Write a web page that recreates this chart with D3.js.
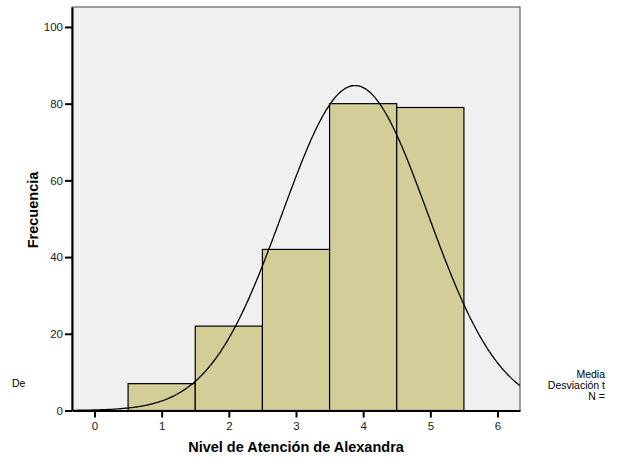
<!DOCTYPE html>
<html>
<head>
<meta charset="utf-8">
<script src="https://cdn.jsdelivr.net/npm/d3@7"></script>
<style>
  body { margin: 0; background: #fff; }
  svg text { font-family: "Liberation Sans", Arial, sans-serif; }
</style>
</head>
<body>
<div id="viz"></div>
<script>
"use strict";
(function(){
    // bins of the histogram and their counts
    const categories = [1, 2, 3, 4, 5]
    const frequencies = [7, 22, 42, 80, 79]
    const xTicks = [0, 1, 2, 3, 4, 5, 6]
    const yTicks = [0, 20, 40, 60, 80, 100]
    const statLabels = ["Media", "Desviación t", "N ="]

    const measurements = { width: 623, height: 463 }
    const plot = { left: 72, right: 520, top: 7, bottom: 410.5 }

    const svg = d3.select('#viz').append("svg")
        .attr('width', measurements.width)
        .attr('height', measurements.height)

    const scaleX = d3.scaleLinear()
        .domain([-0.335, 6.335])
        .range([plot.left, plot.right])
    const scaleY = d3.scaleLinear()
        .domain([0, 105.2])
        .range([plot.bottom, plot.top])

    // background of plot area
    svg.append('rect')
        .attr('x', plot.left).attr('y', plot.top)
        .attr('width', plot.right - plot.left)
        .attr('height', plot.bottom - plot.top)
        .attr('fill', '#f0f0f0')
        .attr('stroke', '#444').attr('stroke-width', 1)

    svg.append('clipPath').attr('id', 'clip')
        .append('rect')
        .attr('x', plot.left).attr('y', plot.top)
        .attr('width', plot.right - plot.left)
        .attr('height', plot.bottom - plot.top)

    // bars
    svg.append('g').selectAll('rect')
        .data(categories)
        .enter()
        .append('rect')
            .attr('x', d => scaleX(d - 0.5))
            .attr('y', (d, i) => scaleY(frequencies[i]))
            .attr('width', d => scaleX(d + 0.5) - scaleX(d - 0.5))
            .attr('height', (d, i) => scaleY(0) - scaleY(frequencies[i]))
            .attr('fill', '#d3ce97')
            .attr('stroke', '#000')
            .attr('stroke-width', 1.2)

    // normal curve from the data
    const n = d3.sum(frequencies)
    const mean = d3.sum(categories, (c, i) => c * frequencies[i]) / n
    const variance = d3.sum(categories, (c, i) => frequencies[i] * (c - mean) ** 2) / (n - 1)
    const sd = Math.sqrt(variance)
    const curve = d3.range(-0.4, 6.41, 0.02).map(x => [x,
        n / (sd * Math.sqrt(2 * Math.PI)) * Math.exp(-0.5 * ((x - mean) / sd) ** 2)])

    svg.append('path')
        .datum(curve)
        .attr('clip-path', 'url(#clip)')
        .attr('fill', 'none')
        .attr('stroke', '#000')
        .attr('stroke-width', 1.3)
        .attr('d', d3.line().x(d => scaleX(d[0])).y(d => scaleY(d[1])))

    // axes
    const xAxis = svg.append('g')
        .attr('transform', `translate(0,${plot.bottom})`)
        .call(d3.axisBottom(scaleX).tickValues(xTicks).tickFormat(d3.format('d'))
            .tickSize(7).tickPadding(4).tickSizeOuter(0))
    const yAxis = svg.append('g')
        .attr('transform', `translate(${plot.left},0)`)
        .call(d3.axisLeft(scaleY).tickValues(yTicks).tickFormat(d3.format('d'))
            .tickSize(7).tickPadding(2).tickSizeOuter(0))

    ;[xAxis, yAxis].forEach(ax => {
        ax.select('.domain').attr('stroke', '#000').attr('stroke-width', 2)
        ax.selectAll('.tick line').attr('stroke', '#000').attr('stroke-width', 2)
        ax.selectAll('.tick text')
            .attr('fill', '#222')
            .style('font-size', '11.5px')
            .style('font-family', '"Liberation Sans", Arial, sans-serif')
    })

    // labels
    svg.append('text')
        .attr('x', 296).attr('y', 452)
        .attr('text-anchor', 'middle')
        .style('font-size', '14.5px').style('font-weight', 'bold')
        .text('Nivel de Atención de Alexandra')

    svg.append('text')
        .attr('transform', 'translate(38,210) rotate(-90)')
        .attr('text-anchor', 'middle')
        .style('font-size', '14.5px').style('font-weight', 'bold')
        .text('Frecuencia')

    svg.append('text')
        .attr('x', 12).attr('y', 387)
        .style('font-size', '10.5px')
        .text('De')

    svg.append('g').selectAll('text')
        .data(statLabels)
        .enter()
        .append('text')
            .attr('x', 605)
            .attr('y', (d, i) => 378 + i * 11)
            .attr('text-anchor', 'end')
            .style('font-size', '10.5px')
            .text(d => d)
})()
</script>
</body>
</html>
